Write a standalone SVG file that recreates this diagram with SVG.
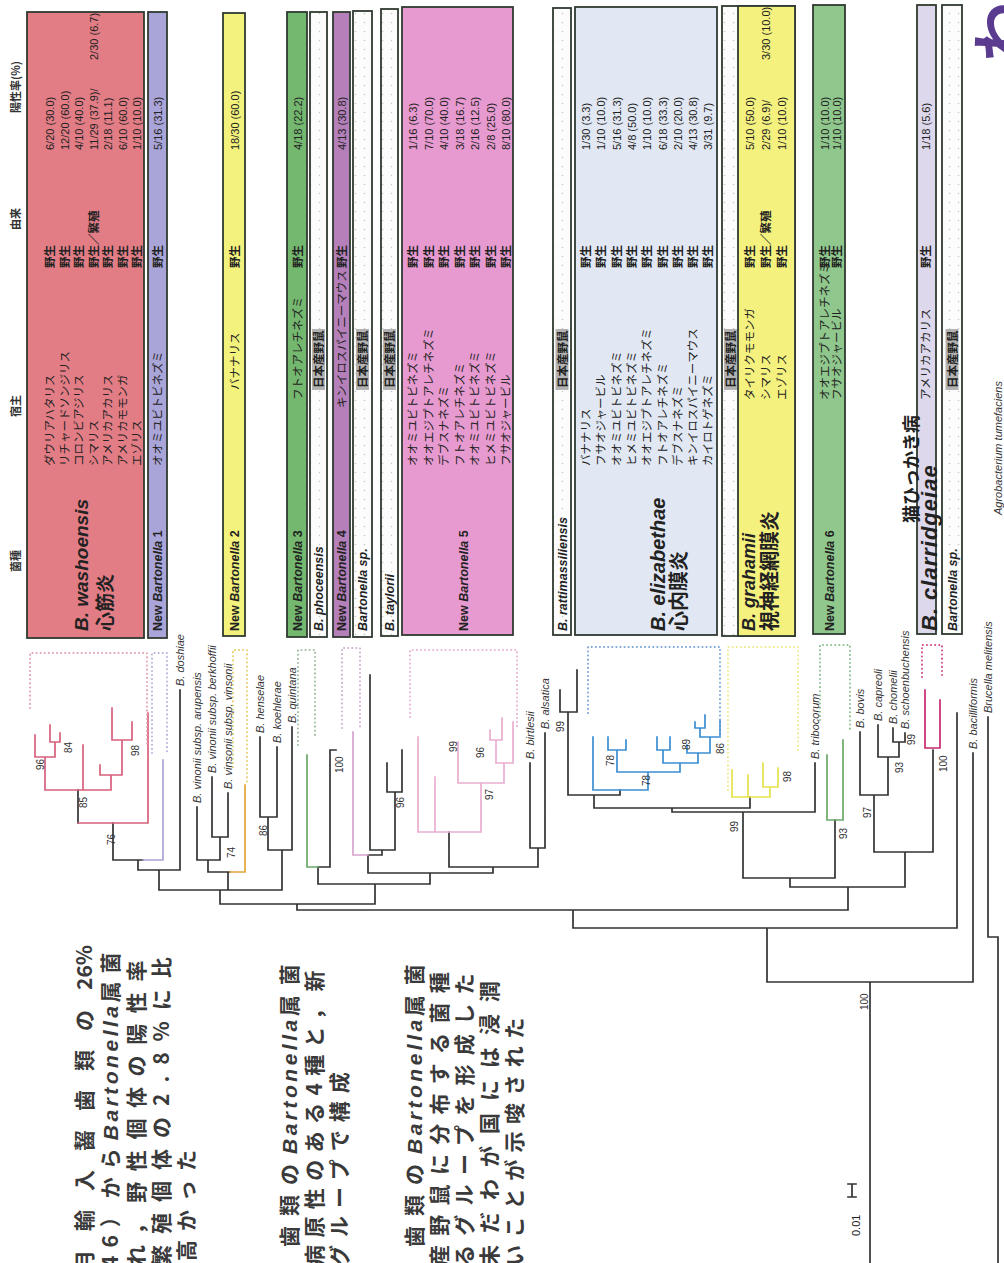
<svg xmlns="http://www.w3.org/2000/svg" width="1004" height="1263" viewBox="0 0 1004 1263">
<defs>
<pattern id="dots" width="9" height="9" patternUnits="userSpaceOnUse"><rect width="9" height="9" fill="#fcfcfc"/><circle cx="4.5" cy="4.5" r="0.8" fill="#c8c8c8"/></pattern>
<style>
.bx{stroke:#2f3a30;stroke-width:1.8}
.h{font-family:"Noto Sans CJK JP",sans-serif;font-size:11.5px;fill:#222}
.o{font-family:"Noto Sans CJK JP",sans-serif;font-size:11.5px;font-weight:700;fill:#222}
.r{font-family:"Liberation Sans",Arial,sans-serif;font-size:11px;fill:#222}
.sp{font-family:"Liberation Sans",Arial,sans-serif;font-weight:700;font-style:italic;fill:#222}
.nb{font-family:"Liberation Sans",Arial,sans-serif;font-weight:700;font-size:12.5px;fill:#222}
.it{font-style:italic}
.jp{font-family:"Noto Sans CJK JP",sans-serif;font-weight:700;fill:#222}
.tl{font-family:"Liberation Sans",Arial,sans-serif;font-style:italic;font-size:11px;fill:#333}
.bs{font-family:"Liberation Sans",Arial,sans-serif;font-size:10px;fill:#333}
.hd{font-family:"Noto Sans CJK JP",sans-serif;font-size:11px;font-weight:700;fill:#333}
.pa{font-family:"Noto Sans CJK JP",sans-serif;font-size:21px;font-weight:700;fill:#3a3a3a}
.pi{font-family:"Liberation Sans",Arial,sans-serif;font-style:italic;letter-spacing:3.5px}
.gy{fill:#b3b3b3}
.tree{fill:none;stroke-width:1.7;stroke-linecap:square}
.dot{fill:none;stroke-width:2;stroke-dasharray:0.1 4;stroke-linecap:round}
</style>
</defs>
<rect width="1004" height="1263" fill="#fff"/>

<g id="connectors">
<path class="tree" stroke="#333" d="M78 790 V823 M113 823 V860 H143 M138 860 V870 M138 870 H180 M180 690 V870 M159 870 V890 M197 807 V860 M212 777 V837 M228 793 V837 M212 837 H228 M220 837 V860 M197 860 H220 M208 860 V872 H230 M228 872 V890 M260 737 V817 M277 747 V817 M260 817 H277 M268 817 V850 M292 727 V850 M268 850 H292 M282 850 V890 M159 890 H282 M220 890 V904 M318 867 H330 M330 750 V867 M330 750 H336 M318 867 V884 M370 675 V850 M387 763 V792 M402 750 V792 M387 792 H402 M395 792 V850 M370 850 H395 M382 850 V855 H368 M368 855 V873 M449 832 V867 M530 763 V848 M545 733 V848 M530 848 H545 M538 848 V867 M449 867 H538 M493 867 V873 M368 873 H493 M430 873 V884 M318 884 H430 M375 884 V904 M220 904 H375 M297 904 V910 M560 690 V712 M577 670 V712 M560 712 H577 M568 712 V795 H620 M620 790 V795 M594 795 V808 M594 808 H750 M750 797 V808 M672 808 V812 M672 812 H815 M815 763 V812 M743 812 V878 M835 820 V878 M743 878 H835 M790 878 V887 M860 732 V795 M878 725 V757 M893 728 V742 M905 733 V742 M893 742 H905 M899 742 V757 M878 757 H899 M888 757 V795 M860 795 H888 M874 795 V852 M933 750 V852 M874 852 H933 M905 852 V887 M790 887 H905 M848 887 V910 M297 910 H848 M573 910 V928 M573 928 H957 M957 713 V928 M767 928 V982 M767 982 H973 M973 753 V982 M870 982 V1263 M988 717 V937 H998 V1263"/>
<path class="tree" stroke="#d8607c" stroke-width="2" d="M35 735 V757 M50 725 V742 M60 733 V742 M50 742 H60 M55 742 V757 M35 757 H55 M45 757 V790 M83 745 V790 M112 708 V740 M132 722 V740 M112 740 H132 M122 740 V775 M100 765 V775 M100 775 H122 M111 775 V790 M45 790 H111 M78 823 H148 M148 713 V823"/>
<path class="tree" stroke="#aba4d6" stroke-width="2" d="M143 860 H163 M163 760 V860"/>
<path class="tree" stroke="#e3a53a" stroke-width="2" d="M245 785 V872 H230"/>
<path class="tree" stroke="#6aa86a" stroke-width="2" d="M307 755 V867 H318 M827 755 V820 M843 740 V820 M827 820 H843"/>
<path class="tree" stroke="#d7a3cf" stroke-width="2" d="M353 732 V855 H368"/>
<path class="tree" stroke="#e9aed0" stroke-width="2" d="M418 737 V832 M435 777 V832 M418 832 H481 M481 783 V832 M458 783 H504 M458 742 V783 M504 763 V783 M496 763 H513 M513 722 V763 M496 740 V763 M490 740 H502 M490 730 V740 M502 718 V740"/>
<path class="tree" stroke="#3b8ed3" stroke-width="2" d="M593 737 V790 M608 737 V750 M626 740 V750 M608 750 H626 M617 750 V772 M657 737 V750 M670 737 V750 M657 750 H670 M663 750 V763 M695 722 V728 M705 715 V728 M695 728 H705 M700 728 V737 M720 720 V737 M700 737 H720 M710 737 V753 M687 745 V753 M687 753 H710 M698 753 V763 M663 763 H698 M680 763 V772 M617 772 H680 M648 772 V790 M593 790 H648"/>
<path class="tree" stroke="#e6e24a" stroke-width="2.2" d="M732 770 V797 M748 775 V797 M763 763 V787 M778 768 V787 M763 787 H778 M770 787 V797 M732 797 H770"/>
<path class="tree" stroke="#c8286e" stroke-width="2.2" d="M925 690 V748 M940 700 V748 M925 748 H940"/>
<path class="dot" stroke="#e3a0b6" d="M30 708 V653 H147 V747"/>
<path class="dot" stroke="#b8b2dc" d="M152 753 V653 H167 V753"/>
<path class="dot" stroke="#e9cf6a" d="M233 767 V650 H247 V785"/>
<path class="dot" stroke="#9fbf9f" d="M298 745 V650 H315 V737"/>
<path class="dot" stroke="#cdb0d0" d="M342 728 V648 H360 V728"/>
<path class="dot" stroke="#ebb3d3" d="M410 717 V650 H517 V730"/>
<path class="dot" stroke="#7ba6d6" d="M588 713 V647 H720 V737"/>
<path class="dot" stroke="#eeea88" d="M728 790 V647 H798 V750"/>
<path class="dot" stroke="#8fbf8f" d="M820 720 V645 H850 V730"/>
<path class="dot" stroke="#d04a8a" d="M922 677 V645 H942 V677"/>
<path class="tree" stroke="#333" stroke-width="1.4" d="M852 1184 V1197 M848 1184 H856 M848 1197 H856"/>
</g>

<g id="tree-labels" transform="matrix(0,-1,1,0,0,1263)">
<text class="tl" x="577" y="184">B. doshiae</text>
<text class="tl" x="460" y="201">B. vinonii subsp. arupensis</text>
<text class="tl" x="490" y="216">B. vinonii subsp. berkhoffii</text>
<text class="tl" x="474" y="232">B. vinsonii subsp. vinsonii</text>
<text class="tl" x="530" y="264">B. henselae</text>
<text class="tl" x="520" y="281">B. koehlerae</text>
<text class="tl" x="540" y="296">B. quintana</text>
<text class="tl" x="504" y="534">B. birtlesii</text>
<text class="tl" x="534" y="549">B. alsatica</text>
<text class="tl" x="504" y="819">B. tribocorum</text>
<text class="tl" x="535" y="864">B. bovis</text>
<text class="tl" x="542" y="882">B. capreoli</text>
<text class="tl" x="539" y="897">B. chomelii</text>
<text class="tl" x="534" y="909">B. schoenbuchensis</text>
<text class="tl" x="514" y="977">B. bacilliformis</text>
<text class="tl" x="550" y="992">Brucella melitensis</text>
<text class="tl" x="748" y="1002">Agrobacterium tumefaciens</text>
<text class="bs" x="493" y="44">96</text>
<text class="bs" x="510" y="72">84</text>
<text class="bs" x="455" y="87">85</text>
<text class="bs" x="507" y="139">98</text>
<text class="bs" x="418" y="115">76</text>
<text class="bs" x="405" y="235">74</text>
<text class="bs" x="427" y="267">86</text>
<text class="bs" x="490" y="343">100</text>
<text class="bs" x="455" y="404">96</text>
<text class="bs" x="511" y="457">99</text>
<text class="bs" x="505" y="484">96</text>
<text class="bs" x="463" y="493">97</text>
<text class="bs" x="531" y="564">99</text>
<text class="bs" x="497" y="614">78</text>
<text class="bs" x="477" y="650">78</text>
<text class="bs" x="513" y="690">89</text>
<text class="bs" x="509" y="724">86</text>
<text class="bs" x="481" y="791">98</text>
<text class="bs" x="431" y="738">99</text>
<text class="bs" x="424" y="847">93</text>
<text class="bs" x="445" y="871">97</text>
<text class="bs" x="490" y="903">93</text>
<text class="bs" x="518" y="915">99</text>
<text class="bs" x="491" y="947">100</text>
<text class="bs" x="253" y="868">100</text>
<text class="r" x="27" y="860" font-size="13">0.01</text>
</g>

<g id="boxes">
<rect class="bx" x="27" y="12" width="117" height="626" fill="#e27d86"/>
<rect class="bx" x="148" y="12" width="19" height="626" fill="#aaa5d8"/>
<rect class="bx" x="223" y="13" width="22" height="623" fill="#f3f27c"/>
<rect class="bx" x="287" y="12" width="20" height="625" fill="#74b86f"/>
<rect class="bx" x="310" y="12" width="17" height="625" fill="url(#dots)"/>
<rect class="bx" x="333" y="12" width="17" height="625" fill="#b57fba"/>
<rect class="bx" x="353" y="11" width="19" height="626" fill="url(#dots)"/>
<rect class="bx" x="381" y="9" width="17" height="627" fill="url(#dots)"/>
<rect class="bx" x="402" y="7" width="111" height="628" fill="#e69acf"/>
<rect class="bx" x="553" y="8" width="18" height="627" fill="url(#dots)"/>
<rect class="bx" x="575" y="7" width="142" height="628" fill="#e1e8f3"/>
<rect class="bx" x="722" y="6" width="73" height="630" fill="url(#dots)"/>
<rect class="bx" x="738" y="6" width="57" height="630" fill="#f4f17f"/>
<rect class="bx" x="813" y="5" width="32" height="629" fill="#8fc78c"/>
<rect class="bx" x="917" y="5" width="19" height="629" fill="#ddd8ec"/>
<rect class="bx" x="942" y="5" width="20" height="629" fill="url(#dots)"/>
</g>

<g id="table-text" transform="matrix(0,-1,1,0,0,1263)">
<text class="hd" x="691" y="20">菌種</text>
<text class="hd" x="846" y="20">宿主</text>
<text class="hd" x="1033" y="20">由来</text>
<text class="hd" x="1150" y="20">陽性率(%)</text>

<g id="washoensis">
<text class="sp" font-size="19" x="632" y="88">B. washoensis</text>
<text class="jp" font-size="19" x="632" y="112">心筋炎</text>
<text class="h" x="797" y="54">ダウリアハタリス</text>
<text class="h" x="797" y="68.5">リチャードソンジリス</text>
<text class="h" x="797" y="83">コロンビアジリス</text>
<text class="h" x="797" y="97.5">シマリス</text>
<text class="h" x="797" y="112">アメリカアカリス</text>
<text class="h" x="797" y="126.5">アメリカモモンガ</text>
<text class="h" x="797" y="141">エゾリス</text>
<text class="o" x="995" y="54">野生</text>
<text class="o" x="995" y="68.5">野生</text>
<text class="o" x="995" y="83">野生</text>
<text class="o" x="995" y="97.5">野生／繁殖</text>
<text class="o" x="995" y="112">野生</text>
<text class="o" x="995" y="126.5">野生</text>
<text class="o" x="995" y="141">野生</text>
<text class="r" x="1113" y="54">6/20 (30.0)</text>
<text class="r" x="1113" y="68.5">12/20 (60.0)</text>
<text class="r" x="1113" y="83">4/10 (40.0)</text>
<text class="r" x="1113" y="97.5">11/29 (37.9)/</text>
<text class="r" x="1203" y="97.5">2/30 (6.7)</text>
<text class="r" x="1113" y="112">2/18 (11.1)</text>
<text class="r" x="1113" y="126.5">6/10 (60.0)</text>
<text class="r" x="1113" y="141">1/10 (10.0)</text>
</g>

<g id="nb1">
<text class="nb" x="632" y="162">New <tspan class="it">Bartonella</tspan>  1</text>
<text class="h" x="797" y="162">オオミユビトビネズミ</text>
<text class="o" x="995" y="162">野生</text>
<text class="r" x="1113" y="162">5/16 (31.3)</text>
</g>

<g id="nb2">
<text class="nb" x="632" y="238.5">New <tspan class="it">Bartonella</tspan>  2</text>
<text class="h" x="873" y="238.5">バナナリス</text>
<text class="o" x="995" y="238.5">野生</text>
<text class="r" x="1113" y="238.5">18/30 (60.0)</text>
</g>

<g id="nb3">
<text class="nb" x="632" y="301.5">New <tspan class="it">Bartonella</tspan>  3</text>
<text class="h" x="863" y="301.5">フトオアレチネズミ</text>
<text class="o" x="995" y="301.5">野生</text>
<text class="r" x="1113" y="301.5">4/18 (22.2)</text>
</g>

<g id="phoceensis">
<text class="sp" font-size="12.5" x="632" y="323">B. phoceensis</text>
<rect class="gy" x="873" y="312" width="61" height="13"/>
<text class="o" x="875" y="323">日本産野鼠</text>
</g>

<g id="nb4">
<text class="nb" x="632" y="346">New <tspan class="it">Bartonella</tspan>  4</text>
<text class="h" x="855" y="346">キンイロスパイニーマウス</text>
<text class="o" x="995" y="346">野生</text>
<text class="r" x="1113" y="346">4/13 (30.8)</text>
</g>

<g id="bartonella-sp-1">
<text class="sp" font-size="12.5" x="632" y="367">Bartonella sp.</text>
<rect class="gy" x="873" y="356" width="61" height="13"/>
<text class="o" x="875" y="367">日本産野鼠</text>
</g>

<g id="taylorii">
<text class="sp" font-size="12.5" x="632" y="394">B. taylorii</text>
<rect class="gy" x="873" y="383" width="61" height="13"/>
<text class="o" x="875" y="394">日本産野鼠</text>
</g>

<g id="nb5">
<text class="nb" font-size="13" x="632" y="468">New <tspan class="it">Bartonella</tspan>  5</text>
<text class="h" x="797" y="417">オオミユビトビネズミ</text>
<text class="h" x="797" y="432.5">オオエジプトアレチネズミ</text>
<text class="h" x="797" y="448">デブスナネズミ</text>
<text class="h" x="797" y="463.5">フトオアレチネズミ</text>
<text class="h" x="797" y="479">オオミユビトビネズミ</text>
<text class="h" x="797" y="494.5">ヒメミユビトビネズミ</text>
<text class="h" x="797" y="510">フサオジャービル</text>
<text class="o" x="995" y="417">野生</text>
<text class="o" x="995" y="432.5">野生</text>
<text class="o" x="995" y="448">野生</text>
<text class="o" x="995" y="463.5">野生</text>
<text class="o" x="995" y="479">野生</text>
<text class="o" x="995" y="494.5">野生</text>
<text class="o" x="995" y="510">野生</text>
<text class="r" x="1113" y="417">1/16 (6.3)</text>
<text class="r" x="1113" y="432.5">7/10 (70.0)</text>
<text class="r" x="1113" y="448">4/10 (40.0)</text>
<text class="r" x="1113" y="463.5">3/18 (16.7)</text>
<text class="r" x="1113" y="479">2/16 (12.5)</text>
<text class="r" x="1113" y="494.5">2/8 (25.0)</text>
<text class="r" x="1113" y="510">8/10 (80.0)</text>
</g>

<g id="rattimassiliensis">
<text class="sp" font-size="12.5" x="632" y="566.5">B. rattimassiliensis</text>
<rect class="gy" x="873" y="555.5" width="61" height="13"/>
<text class="o" x="875" y="566.5">日本産野鼠</text>
</g>

<g id="elizabethae">
<text class="sp" font-size="20" x="632" y="665">B. elizabethae</text>
<text class="jp" font-size="20" x="632" y="686">心内膜炎</text>
<text class="h" x="797" y="590">バナナリス</text>
<text class="h" x="797" y="605.3">フサオジャービル</text>
<text class="h" x="797" y="620.6">オオミユビトビネズミ</text>
<text class="h" x="797" y="635.9">ヒメミユビトビネズミ</text>
<text class="h" x="797" y="651.2">オオエジプトアレチネズミ</text>
<text class="h" x="797" y="666.5">フトオアレチネズミ</text>
<text class="h" x="797" y="681.8">デブスナネズミ</text>
<text class="h" x="797" y="697.1">キンイロスパイニーマウス</text>
<text class="h" x="797" y="712.4">カイロトゲネズミ</text>
<text class="o" x="995" y="590">野生</text>
<text class="o" x="995" y="605.3">野生</text>
<text class="o" x="995" y="620.6">野生</text>
<text class="o" x="995" y="635.9">野生</text>
<text class="o" x="995" y="651.2">野生</text>
<text class="o" x="995" y="666.5">野生</text>
<text class="o" x="995" y="681.8">野生</text>
<text class="o" x="995" y="697.1">野生</text>
<text class="o" x="995" y="712.4">野生</text>
<text class="r" x="1113" y="590">1/30 (3.3)</text>
<text class="r" x="1113" y="605.3">1/10 (10.0)</text>
<text class="r" x="1113" y="620.6">5/16 (31.3)</text>
<text class="r" x="1113" y="635.9">4/8 (50.0)</text>
<text class="r" x="1113" y="651.2">1/10 (10.0)</text>
<text class="r" x="1113" y="666.5">6/18 (33.3)</text>
<text class="r" x="1113" y="681.8">2/10 (20.0)</text>
<text class="r" x="1113" y="697.1">4/13 (30.8)</text>
<text class="r" x="1113" y="712.4">3/31 (9.7)</text>
</g>

<g id="japan-rodent-row">
<rect class="gy" x="873" y="724" width="61" height="13"/>
<text class="o" x="875" y="735">日本産野鼠</text>
</g>

<g id="grahamii">
<text class="sp" font-size="18" x="632" y="755">B. grahamii</text>
<text class="jp" font-size="20" x="632" y="777">視神経網膜炎</text>
<text class="h" x="863" y="754">タイリクモモンガ</text>
<text class="h" x="863" y="770">シマリス</text>
<text class="h" x="863" y="786">エゾリス</text>
<text class="o" x="995" y="754">野生</text>
<text class="o" x="995" y="770">野生／繁殖</text>
<text class="o" x="995" y="786">野生</text>
<text class="r" x="1113" y="754">5/10 (50.0)</text>
<text class="r" x="1113" y="770">2/29 (6.9)/</text>
<text class="r" x="1203" y="770">3/30 (10.0)</text>
<text class="r" x="1113" y="786">1/10 (10.0)</text>
</g>

<g id="nb6">
<text class="nb" x="632" y="834">New <tspan class="it">Bartonella</tspan>  6</text>
<text class="h" font-size="11" x="863" y="829">オオエジプトアレチネズミ</text>
<text class="h" font-size="11" x="863" y="841">フサオジャービル</text>
<text class="o" font-size="11" x="995" y="829">野生</text>
<text class="o" font-size="11" x="995" y="841">野生</text>
<text class="r" font-size="10.5" x="1113" y="829">1/10 (10.0)</text>
<text class="r" font-size="10.5" x="1113" y="841">1/10 (10.0)</text>
</g>

<g id="clarridgeiae">
<text class="jp" font-size="18" x="740" y="918">猫ひっかき病</text>
<text class="sp" font-size="22" x="632" y="937" letter-spacing="1">B. clarridgeiae</text>
<text class="h" x="863" y="930">アメリカアカリス</text>
<text class="o" x="995" y="930">野生</text>
<text class="r" x="1113" y="930">1/18 (5.6)</text>
</g>

<g id="bartonella-sp-2">
<text class="sp" font-size="12.5" x="632" y="956.5">Bartonella sp.</text>
<rect class="gy" x="873" y="945.5" width="61" height="13"/>
<text class="o" x="875" y="956.5">日本産野鼠</text>
</g>

<text x="1201" y="1024" font-family="Noto Sans CJK JP,sans-serif" font-size="60" font-weight="700" fill="#5a3b8f">わ</text>
</g>

<g id="paragraph" transform="matrix(0,-1,1,0,0,1263)">
<text class="pa" x="-8" y="92" letter-spacing="19">月輸入齧歯類の</text>
<text class="pa" x="273" y="92">26%</text>
<text class="pa" x="-5" y="118" letter-spacing="8">46）から<tspan class="pi">Bartonella</tspan>属菌</text>
<text class="pa" x="-3" y="144" letter-spacing="10.6">れ，野性個体の陽性率</text>
<text class="pa" x="-3" y="169" letter-spacing="11">繁殖個体の2.8%に比</text>
<text class="pa" x="-28" y="194" letter-spacing="9">く高かった</text>
<text class="pa" x="16" y="297" letter-spacing="10">歯類の<tspan class="pi">Bartonella</tspan>属菌</text>
<text class="pa" x="-3" y="322" letter-spacing="7.4">病原性のある4種と，新</text>
<text class="pa" x="-3" y="347" letter-spacing="8">グループで構成</text>
<text class="pa" x="16" y="422" letter-spacing="10">歯類の<tspan class="pi">Bartonella</tspan>属菌</text>
<text class="pa" x="-3" y="447" letter-spacing="9.3">産野鼠に分布する菌種</text>
<text class="pa" x="-3" y="472" letter-spacing="9.3">るグループを形成した</text>
<text class="pa" x="-3" y="497" letter-spacing="12">未だわが国には浸潤</text>
<text class="pa" x="-3" y="522" letter-spacing="7.4">いことが示唆された</text>
</g>
</svg>
